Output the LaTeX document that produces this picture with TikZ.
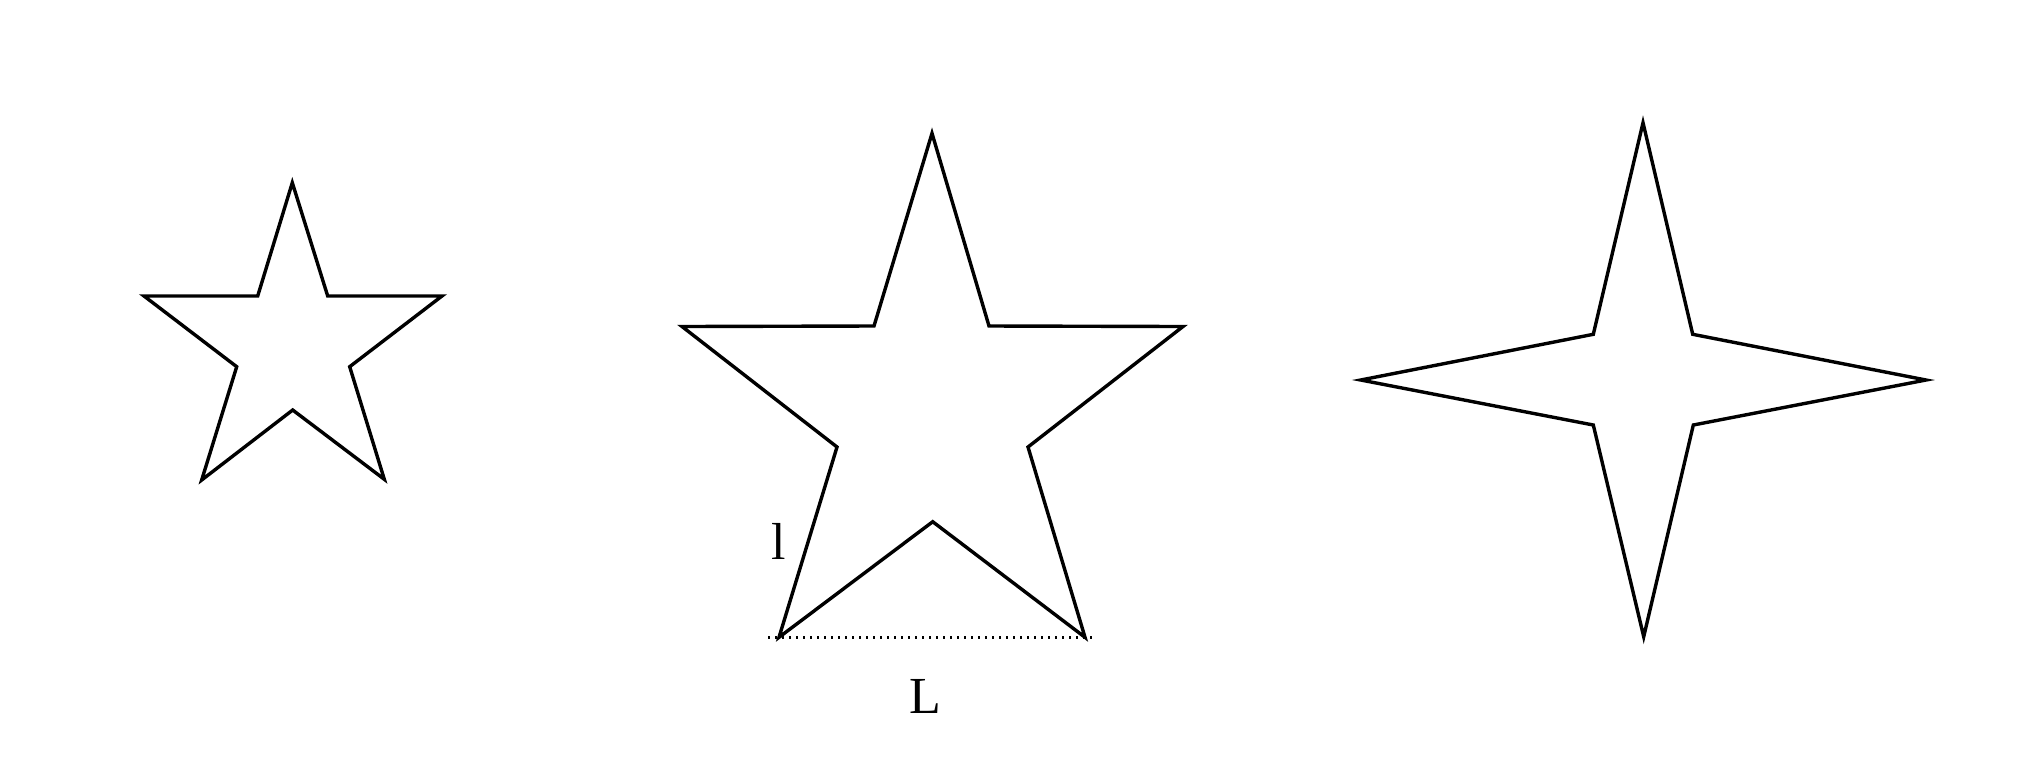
\documentclass[tikz,border=0pt]{standalone}
\usepackage{fontspec}
\setmainfont{Liberation Serif}
\begin{document}
\begin{tikzpicture}[x=0.5pt,y=-0.5pt,
  starline/.style={draw=black,line width=1.7pt,line join=miter},
  dimline/.style={draw=black,line width=1.1pt,dash pattern=on 1.1pt off 2.4pt},
  lbl/.style={font=\fontsize{26}{30}\selectfont,inner sep=0pt,anchor=base}]
\useasboundingbox[fill=white] (0,0) rectangle (2038,767);
% small star
\coordinate (s1) at (292.3,182.7);
\coordinate (s2) at (327.7,296);
\coordinate (s3) at (442,296);
\coordinate (s4) at (349.7,366.7);
\coordinate (s5) at (384.3,479.3);
\coordinate (s6) at (292.7,410);
\coordinate (s7) at (201.7,480);
\coordinate (s8) at (236.7,366.7);
\coordinate (s9) at (144,296);
\coordinate (s10) at (257.7,296);
\draw[starline] (s1) -- (s2) -- (s3) -- (s4) -- (s5) -- (s6) -- (s7) -- (s8) -- (s9) -- (s10) -- cycle;
% middle star
\coordinate (m1) at (932,133.3);
\coordinate (m2) at (989,326);
\coordinate (m3) at (1183,326.5);
\coordinate (m4) at (1028,447);
\coordinate (m5) at (1085,637.3);
\coordinate (m6) at (932.7,521.7);
\coordinate (m7) at (779,637.3);
\coordinate (m8) at (837,447);
\coordinate (m9) at (682,326.5);
\coordinate (m10) at (874,326);
\draw[starline] (m1) -- (m2) -- (m3) -- (m4) -- (m5) -- (m6) -- (m7) -- (m8) -- (m9) -- (m10) -- cycle;
% dotted base line
\coordinate (d1) at (768,637.5);
\coordinate (d2) at (1095,637.5);
\draw[dimline] (d1) -- (d2);
\node[lbl] (lsmall) at (779,559) {l};
\node[lbl] (Lbig) at (925,713) {L};
% four-pointed star
\coordinate (f1) at (1643,122.7);
\coordinate (f2) at (1692.7,334.3);
\coordinate (f3) at (1926,380);
\coordinate (f4) at (1693.3,425);
\coordinate (f5) at (1643.7,636.7);
\coordinate (f6) at (1593.3,425);
\coordinate (f7) at (1360.7,380);
\coordinate (f8) at (1593.3,334.3);
\draw[starline] (f1) -- (f2) -- (f3) -- (f4) -- (f5) -- (f6) -- (f7) -- (f8) -- cycle;
\end{tikzpicture}
\end{document}
